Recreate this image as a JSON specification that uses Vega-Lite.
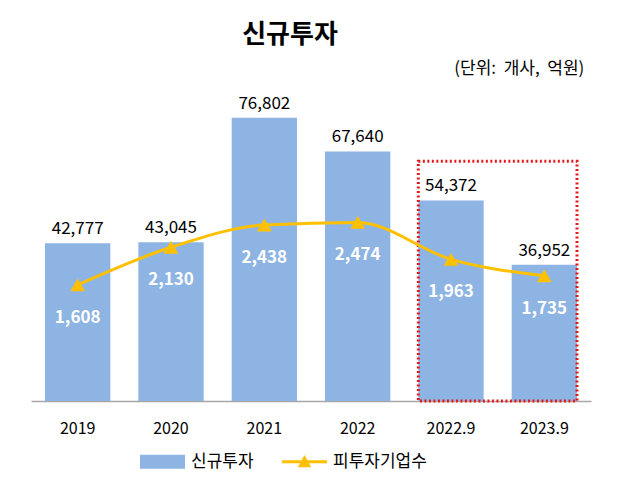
{
  "$schema": "https://vega.github.io/schema/vega-lite/v6.json",
  "width": 560,
  "height": 332,
  "autosize": {"type": "none"},
  "padding": {"left": 31, "top": 69, "right": 30, "bottom": 88},
  "background": "white",
  "config": {
    "font": "Noto Sans CJK KR",
    "view": {"stroke": null},
    "axisX": {"labelAngle": 0, "labelFontSize": 16, "labelColor": "#000", "ticks": false, "domainColor": "#A6A6A6", "domainWidth": 1.5, "labelPadding": 19, "grid": false},
    "legend": {
      "orient": "none", "legendX": 109, "legendY": 370, "direction": "horizontal",
      "labelFontSize": 17, "labelColor": "#000", "labelFont": "Noto Sans CJK KR",
      "symbolSize": 2025, "labelOffset": 6, "columnPadding": 28
    }
  },
  "title": {"text": "신규투자", "fontSize": 26, "fontWeight": "bold", "color": "#000", "anchor": "middle", "dx": -21, "offset": 12, "frame": "group"},
  "datasets": {
    "main": [
      {"period": "2019", "신규투자": 42777, "피투자기업수": 1608},
      {"period": "2020", "신규투자": 43045, "피투자기업수": 2130},
      {"period": "2021", "신규투자": 76802, "피투자기업수": 2438},
      {"period": "2022", "신규투자": 67640, "피투자기업수": 2474},
      {"period": "2022.9", "신규투자": 54372, "피투자기업수": 1963},
      {"period": "2023.9", "신규투자": 36952, "피투자기업수": 1735}
    ],
    "box": [{"start": "2022.9", "end": "2023.9", "top": 65000}],
    "note": [{"text": "(단위:\u00a0\u00a0개사,\u00a0\u00a0억원)"}]
  },
  "layer": [
    {
      "layer": [
        {
          "data": {"name": "main"},
          "transform": [{"fold": ["신규투자"], "as": ["series", "value"]}],
          "mark": {"type": "bar"},
          "encoding": {
            "x": {"field": "period", "type": "nominal", "sort": null, "title": null,
                  "scale": {"domain": ["2019", "2020", "2021", "2022", "2022.9", "2023.9"], "paddingInner": 0.3, "paddingOuter": 0.15}},
            "y": {"field": "value", "type": "quantitative", "axis": null, "scale": {"domain": [0, 90000], "nice": false}},
            "color": {"field": "series", "type": "nominal", "title": null,
                      "scale": {"domain": ["신규투자", "피투자기업수"], "range": ["#8EB4E3", "#FFC000"]},
                      "legend": {
                        "title": null,
                        "encode": {"symbols": {"update": {
                          "shape": {"signal": "datum.value === '신규투자' ? 'M-1,-0.31H1V0.31H-1Z' : 'M-1,-0.067H1V0.067H-1Z M-0.3,0.24L0,-0.3L0.3,0.24Z'"},
                          "fill": {"scale": "color", "field": "value"},
                          "strokeWidth": {"value": 0},
                          "opacity": {"value": 1}
                        }}}
                      }}
          }
        },
        {
          "data": {"name": "main"},
          "transform": [{"fold": ["신규투자"], "as": ["series", "value"]}],
          "mark": {"type": "text", "baseline": "bottom", "dy": -5, "fontSize": 17, "color": "#000"},
          "encoding": {
            "x": {"field": "period", "type": "nominal", "sort": null},
            "y": {"field": "value", "type": "quantitative"},
            "text": {"field": "value", "type": "quantitative", "format": ","}
          }
        },
        {
          "data": {"name": "box"},
          "mark": {"type": "rect", "filled": false, "stroke": "#E31A1C", "strokeWidth": 3, "strokeDash": [2, 2.5]},
          "encoding": {
            "x": {"field": "start", "type": "nominal", "bandPosition": 0},
            "x2": {"field": "end", "bandPosition": 1},
            "y": {"field": "top", "type": "quantitative"},
            "y2": {"datum": 0}
          }
        },
        {
          "data": {"name": "note"},
          "mark": {"type": "text", "align": "right", "baseline": "middle", "dx": 40, "fontSize": 17, "color": "#000"},
          "encoding": {
            "x": {"datum": "2023.9", "type": "nominal"},
            "y": {"datum": 90000, "type": "quantitative"},
            "text": {"field": "text"}
          }
        }
      ]
    },
    {
      "layer": [
        {
          "data": {"name": "main"},
          "transform": [{"fold": ["피투자기업수"], "as": ["series", "value"]}],
          "mark": {"type": "line", "strokeWidth": 3, "interpolate": "monotone"},
          "encoding": {
            "x": {"field": "period", "type": "nominal", "sort": null},
            "y": {"field": "value", "type": "quantitative", "axis": null, "scale": {"domain": [0, 4600], "nice": false}},
            "color": {"field": "series", "type": "nominal"}
          }
        },
        {
          "data": {"name": "main"},
          "transform": [{"fold": ["피투자기업수"], "as": ["series", "value"]}],
          "mark": {"type": "point", "shape": "triangle-up", "filled": true, "size": 220, "color": "#FFC000", "opacity": 1},
          "encoding": {
            "x": {"field": "period", "type": "nominal", "sort": null},
            "y": {"field": "value", "type": "quantitative"}
          }
        },
        {
          "data": {"name": "main"},
          "transform": [{"fold": ["피투자기업수"], "as": ["series", "value"]}],
          "mark": {"type": "text", "baseline": "middle", "dy": 33, "fontSize": 17, "fontWeight": "bold", "color": "#FFFFFF"},
          "encoding": {
            "x": {"field": "period", "type": "nominal", "sort": null},
            "y": {"field": "value", "type": "quantitative"},
            "text": {"field": "value", "type": "quantitative", "format": ","}
          }
        }
      ]
    }
  ],
  "resolve": {"scale": {"y": "independent"}}
}
